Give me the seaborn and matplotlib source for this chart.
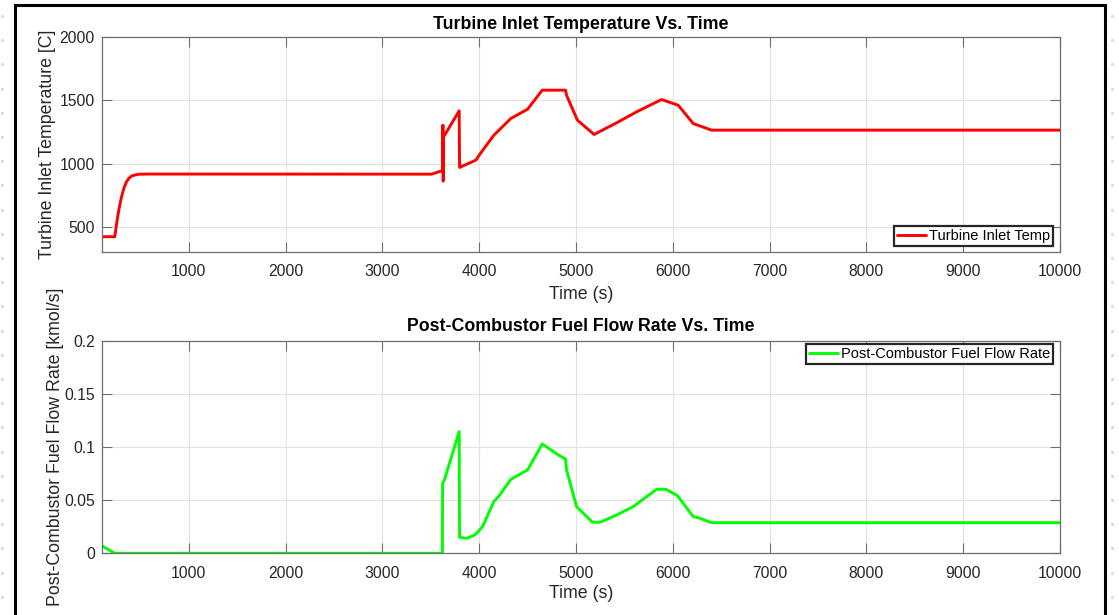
import numpy as np
import pandas as pd
import matplotlib
matplotlib.use("Agg")
import matplotlib.pyplot as plt
import seaborn as sns
from matplotlib.lines import Line2D

# ---------------- data ----------------
time_temp = [100, 235, 260, 280, 305, 330, 356, 380, 408, 450, 494, 600,
             3508, 3611, 3622, 3625, 3628, 3632, 3793, 3797, 3966, 4007,
             4151, 4327, 4500, 4651, 4892, 4902, 5015, 5187, 5418, 5625,
             5884, 6056, 6211, 6401, 10000]
temp_c = [426, 426, 560, 650, 741, 810, 859, 885, 904, 914, 919, 920,
          919, 945, 950, 1305, 864, 1213, 1418, 972, 1030, 1077,
          1226, 1358, 1431, 1581, 1581, 1541, 1344, 1232, 1323, 1410,
          1507, 1462, 1318, 1266, 1266]

time_fuel = [100, 235, 3620, 3622, 3640, 3793, 3797, 3869, 3955, 4034,
             4151, 4213, 4327, 4500, 4651, 4817, 4892, 4902, 5006, 5171,
             5247, 5419, 5591, 5832, 5929, 6049, 6211, 6262, 6401, 10000]
fuel_kmol = [0.0072, 0.0, 0.0, 0.0659, 0.069, 0.1144, 0.0151, 0.0141, 0.0172, 0.025,
             0.0486, 0.0549, 0.0696, 0.0784, 0.1029, 0.0925, 0.0887, 0.0784, 0.0439, 0.0292,
             0.0292, 0.036, 0.0439, 0.0602, 0.0602, 0.0542, 0.0344, 0.0335, 0.0288, 0.0288]

x_ticks = [1000, 2000, 3000, 4000, 5000, 6000, 7000, 8000, 9000, 10000]
temp_ticks = [500, 1000, 1500, 2000]
fuel_ticks = [0, 0.05, 0.1, 0.15, 0.2]
fuel_tick_labels = ["0", "0.05", "0.1", "0.15", "0.2"]

df_temp = pd.DataFrame({"Time": time_temp, "Temp": temp_c})
df_fuel = pd.DataFrame({"Time": time_fuel, "Fuel": fuel_kmol})

# ---------------- style ----------------
sns.set_theme(style="whitegrid")
plt.rcParams['font.family'] = ['Liberation Sans', 'DejaVu Sans']

W, H = 1119, 615
fig = plt.figure(figsize=(W / 100, H / 100), dpi=100)
fig.patch.set_facecolor("white")


def px_axes(l, t, r, b):
    return fig.add_axes([l / W, 1 - b / H, (r - l) / W, (b - t) / H])


ax1 = px_axes(101.7, 37, 1060, 251.7)
ax2 = px_axes(101.7, 340.7, 1060, 553.3)

sns.lineplot(data=df_temp, x="Time", y="Temp", ax=ax1, estimator=None, sort=False,
             color="#ff0000", lw=2.1, label="Turbine Inlet Temp")
sns.lineplot(data=df_fuel, x="Time", y="Fuel", ax=ax2, estimator=None, sort=False,
             color="#00ff00", lw=2.1, label="Post-Combustor Fuel Flow Rate")

spine_c = "#6e6e6e"
text_c = "#262626"
TICK_FS = 11.3
LABEL_FS = 12.8
for ax in (ax1, ax2):
    ax.set_facecolor("white")
    for s in ax.spines.values():
        s.set_color(spine_c)
        s.set_linewidth(0.9)
        s.set_visible(True)
    ax.grid(True, color="#e3e3e3", lw=0.8)
    ax.tick_params(which="both", direction="in", length=7, width=0.8, color=spine_c,
                   labelcolor=text_c, labelsize=TICK_FS, top=True, right=True,
                   bottom=True, left=True)
    ax.tick_params(axis="x", pad=9)
    ax.tick_params(axis="y", pad=5)
    ax.set_xlim(100, 10000)
    ax.set_xticks(x_ticks)
    ax.set_xticklabels([str(v) for v in x_ticks])

ax1.set_xlabel("Time (s)", fontsize=LABEL_FS, color=text_c, labelpad=5)
ax2.set_xlabel("Time (s)", fontsize=LABEL_FS, color=text_c, labelpad=3)

ax1.set_ylim(308, 2000)
ax1.set_yticks(temp_ticks)
ax1.set_yticklabels([str(v) for v in temp_ticks])
ax1.set_ylabel("Turbine Inlet Temperature [C]", fontsize=LABEL_FS, color=text_c, labelpad=2.2)
ax1.set_title("Turbine Inlet Temperature Vs. Time", fontsize=LABEL_FS, fontweight="bold",
              color="black", pad=6)

ax2.set_ylim(0, 0.2)
ax2.set_yticks(fuel_ticks)
ax2.set_yticklabels(fuel_tick_labels)
ax2.set_ylabel("Post-Combustor Fuel Flow Rate [kmol/s]", fontsize=LABEL_FS, color=text_c, labelpad=0.3)
ax2.set_title("Post-Combustor Fuel Flow Rate Vs. Time", fontsize=LABEL_FS, fontweight="bold",
              color="black", pad=7)

leg_kw = dict(fontsize=10.5, frameon=True, fancybox=False, framealpha=1, borderaxespad=0,
              borderpad=0.2, handlelength=2.0, handletextpad=0.2, edgecolor="#262626")
leg1 = ax1.legend(loc="lower right", bbox_to_anchor=(0.993, 0.027), **leg_kw)
leg2 = ax2.legend(loc="upper right", bbox_to_anchor=(0.993, 0.985), **leg_kw)
for leg in (leg1, leg2):
    leg.get_frame().set_linewidth(1.6)
    for t in leg.get_texts():
        t.set_color("black")

# ---------------- outer frame and background dots (screenshot look) ----------------
fig.add_artist(Line2D([14.5 / W, 14.5 / W, 1104.5 / W, 1104.5 / W],
                      [-0.05, 1 - 5 / H, 1 - 5 / H, -0.05],
                      transform=fig.transFigure, color="black", lw=2.2,
                      solid_joinstyle="miter", clip_on=False))
dot_y = [1 - (16 + 24.2 * k) / H for k in range(25)]
for xd in (2 / W, 1112 / W):
    fig.add_artist(Line2D([xd] * len(dot_y), dot_y, transform=fig.transFigure,
                          linestyle="none", marker="o", markersize=2.4,
                          color="#dcdce6", markeredgewidth=0, clip_on=False))

fig.savefig("out.png", dpi=100, facecolor="white")
